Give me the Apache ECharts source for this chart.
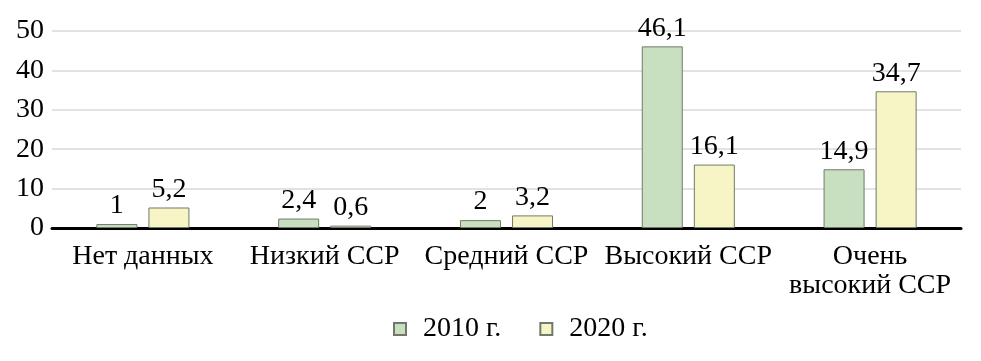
<!DOCTYPE html>
<html><head><meta charset="utf-8">
<script src="https://cdn.jsdelivr.net/npm/echarts@6/dist/echarts.min.js"></script>
<style>html,body{margin:0;padding:0;background:#fff}#c{width:981px;height:361px}</style>
</head><body><div id="c"></div>
<script>
const categories = ["Нет данных", "Низкий ССР", "Средний ССР", "Высокий ССР", "Очень\nвысокий ССР"];
const series2010 = [1, 2.4, 2, 46.1, 14.9];
const series2020 = [5.2, 0.6, 3.2, 16.1, 34.7];
const seriesNames = ["2010 г.", "2020 г."];
const yTicks = [0, 10, 20, 30, 40, 50];

const FF = 'Liberation Serif';
const FS = 28;
const fmt = p => String(p.value).replace('.', ',');
const chart = echarts.init(document.getElementById('c'));
chart.setOption({
  animation: false,
  textStyle: { fontFamily: FF, fontSize: FS },
  grid: { left: 52, right: 20, top: 31, bottom: 133 },
  legend: {
    bottom: 13, left: 388, itemWidth: 12, itemHeight: 12, itemGap: 38,
    icon: 'rect',
    textStyle: { fontFamily: FF, fontSize: FS, color: '#000', padding: [0, 0, 0, 12] },
    data: seriesNames
  },
  xAxis: {
    type: 'category', data: categories,
    axisLine: { lineStyle: { color: '#000', width: 3 } },
    axisTick: { show: false },
    axisLabel: { fontFamily: FF, fontSize: FS, color: '#000', lineHeight: 29, margin: 14, interval: 0 }
  },
  yAxis: {
    type: 'value', min: 0, max: 50, interval: 10,
    axisLine: { show: false }, axisTick: { show: false },
    splitLine: { lineStyle: { color: '#d9d9d9', width: 1.5 } },
    axisLabel: { fontFamily: FF, fontSize: FS, color: '#000', margin: 8,
      formatter: v => yTicks.includes(v) ? String(v) : '' }
  },
  series: [
    { name: seriesNames[0], type: 'bar', data: series2010, barWidth: 41, barGap: '27%',
      itemStyle: { color: '#c9e0c0', borderColor: '#6f7a6a', borderWidth: 1 },
      label: { show: true, position: 'top', distance: 4, fontFamily: FF, fontSize: FS, color: '#000', formatter: fmt } },
    { name: seriesNames[1], type: 'bar', data: series2020, barWidth: 41,
      itemStyle: { color: '#f7f5c6', borderColor: '#6f7a6a', borderWidth: 1 },
      label: { show: true, position: 'top', distance: 4, fontFamily: FF, fontSize: FS, color: '#000', formatter: fmt } }
  ]
});
</script></body></html>
